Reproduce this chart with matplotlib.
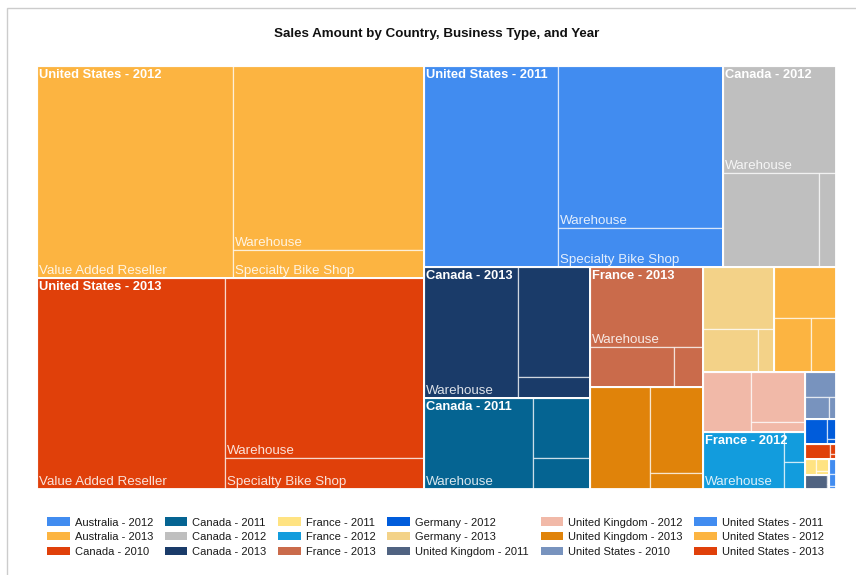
import matplotlib
matplotlib.use("Agg")
import matplotlib.pyplot as plt
from matplotlib.patches import Rectangle, Patch

plt.rcParams['font.family'] = ['Liberation Sans', 'DejaVu Sans']

# ====================== data ======================
groups = [
    "Australia - 2012", "Australia - 2013", "Canada - 2010",
    "Canada - 2011", "Canada - 2012", "Canada - 2013",
    "France - 2011", "France - 2012", "France - 2013",
    "Germany - 2012", "Germany - 2013", "United Kingdom - 2011",
    "United Kingdom - 2012", "United Kingdom - 2013", "United States - 2010",
    "United States - 2011", "United States - 2012", "United States - 2013",
]
business_types = ["Value Added Reseller", "Warehouse", "Specialty Bike Shop"]

# sales amount ($K) per group, one list per business type
var_sales = [90, 1961, 60, 3420, 8957, 7848, 140, 630, 3276,
             180, 2408, 16, 2700, 4558, 775, 26750, 41390, 39396]
warehouse_sales = [110, 3162, 391, 9828, 12010, 12314, 182, 4617, 9040,
                   528, 4392, 300, 2880, 6120, 528, 26650, 35010, 35680]
bike_shop_sales = [20, 1325, 25, 1767, 1614, 1512, 56, 567, 1131,
                   36, 688, 8, 540, 848, 154, 6474, 5405, 6109]

# BrightPastel palette
palette = ["#418CF0", "#FCB441", "#E0400A", "#056492", "#BFBFBF", "#1A3B69",
           "#FFE382", "#129CDD", "#CA6B4B", "#005CDB", "#F3D288", "#506381",
           "#F1B9A8", "#E0830A", "#7893BE"]
colors = [palette[i % len(palette)] for i in range(len(groups))]


# ====================== squarified layout ======================
def worst(row, side):
    s = sum(row)
    return max(max(side * side * r / (s * s), s * s / (side * side * r)) for r in row)


def squarify(values, x, y, w, h):
    """values sorted descending, sum == w*h; y grows downward"""
    rects = []
    vals = list(values)
    while vals:
        side = min(w, h)
        row = [vals[0]]
        i = 1
        while i < len(vals) and worst(row + [vals[i]], side) <= worst(row, side):
            row.append(vals[i])
            i += 1
        vals = vals[i:]
        s = sum(row)
        if w >= h:
            cw = s / h
            yy = y
            for r in row:
                rects.append((x, yy, cw, r / cw))
                yy += r / cw
            x += cw
            w -= cw
        else:
            rh = s / w
            xx = x
            for r in row:
                rects.append((xx, y, r / rh, rh))
                xx += r / rh
            y += rh
            h -= rh
    return rects


# ====================== plotting ======================
W_PX, H_PX = 856, 575
fig = plt.figure(figsize=(W_PX / 100, H_PX / 100), dpi=100)
left, right, top, bottom = 37, 836, 66, 489
ax = fig.add_axes([left / W_PX, 1 - bottom / H_PX,
                   (right - left) / W_PX, (bottom - top) / H_PX])
AW, AH = right - left, bottom - top
ax.set_xlim(0, AW)
ax.set_ylim(AH, 0)
ax.axis('off')

totals = [a + b + c for a, b, c in zip(var_sales, warehouse_sales, bike_shop_sales)]
order = sorted(range(len(groups)), key=lambda k: -totals[k])
scale = AW * AH / sum(totals)
group_rects = squarify([totals[k] * scale for k in order], 0, 0, AW, AH)

renderer = fig.canvas.get_renderer()


def fits(txt, w, h, pad=5):
    bb = txt.get_window_extent(renderer)
    return bb.width + 2 * pad <= w and bb.height + 2 <= h


for k, (gx, gy, gw, gh) in zip(order, group_rects):
    subs = [(var_sales[k], business_types[0]),
            (warehouse_sales[k], business_types[1]),
            (bike_shop_sales[k], business_types[2])]
    subs.sort(key=lambda s: -s[0])
    s_scale = gw * gh / totals[k]
    sub_rects = squarify([v * s_scale for v, _ in subs], gx, gy, gw, gh)
    for (v, name), (sx, sy, sw, sh) in zip(subs, sub_rects):
        ax.add_patch(Rectangle((sx, sy), sw, sh, facecolor=colors[k],
                               edgecolor=(1, 1, 1, 0.65), lw=0.9))
        t = ax.text(sx + 2, sy + sh - 1, name, fontsize=9.6, color='white',
                    alpha=0.85, ha='left', va='bottom')
        if not fits(t, sw, sh):
            t.remove()
    ax.add_patch(Rectangle((gx, gy), gw, gh, facecolor='none',
                           edgecolor='white', lw=1.3))
    g = ax.text(gx + 2, gy + 3, groups[k], fontsize=9.3, fontweight='bold',
                color='white', ha='left', va='top')
    if not fits(g, gw, gh):
        g.remove()

fig.text((left + right) / 2 / W_PX, 1 - 33.5 / H_PX,
         "Sales Amount by Country, Business Type, and Year",
         fontsize=9.6, fontweight='bold', ha='center', va='center', color='#111111')

handles = [Patch(facecolor=c, edgecolor='none') for c in colors]
fig.legend(handles, groups, ncol=6, loc='center',
           bbox_to_anchor=(435.5 / W_PX, 1 - 537 / H_PX),
           frameon=False, fontsize=8, handlelength=2.05, handleheight=0.8,
           handletextpad=0.45, columnspacing=1.05, labelspacing=0.4,
           borderpad=0, labelcolor='#1a1a1a')

# light frame around the report item
fig.add_artist(Rectangle((7.5 / W_PX, -0.1), 1.2, (H_PX - 7.5) / H_PX + 0.1,
                         transform=fig.transFigure, fill=False,
                         edgecolor='#CCCCCC', lw=1))

fig.savefig("out.png", dpi=100)
